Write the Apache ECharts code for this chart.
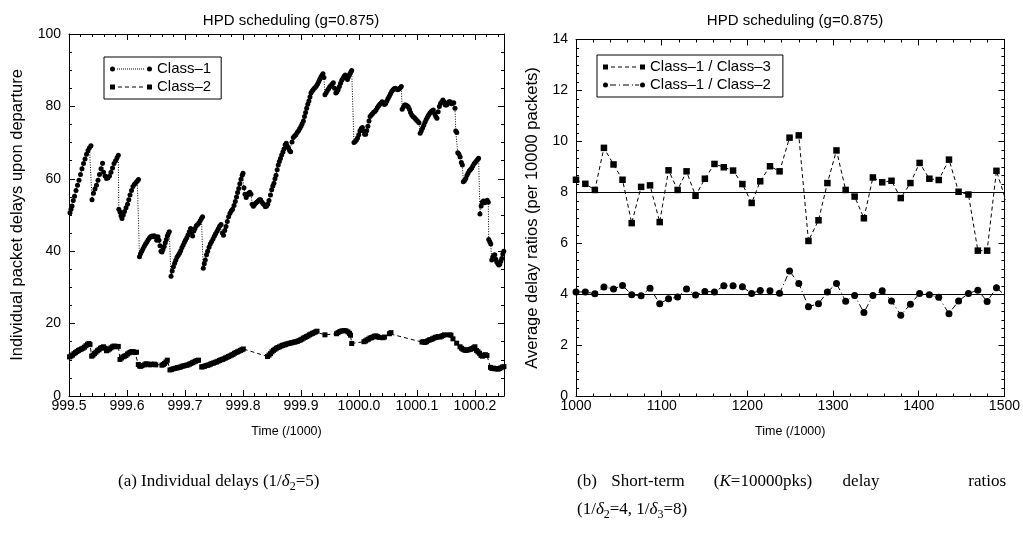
<!DOCTYPE html>
<html><head><meta charset="utf-8">
<script src="https://cdn.jsdelivr.net/npm/echarts@6/dist/echarts.min.js"></script>
<style>html,body{margin:0;padding:0;background:#fff}#c{width:1023px;height:539px}</style>
</head><body><div id="c"></div>
<script>
// ---- Data ----
// (a) Individual packet delays: [time (/1000), delay]
const class1Delays = [
[999.5017,50.6],[999.5034,51.6],[999.5052,52.5],[999.5074,54],[999.5095,55.2],[999.5121,56.8],[999.5147,58.2],[999.5172,59.6],[999.5198,61.2],[999.5224,62.8],[999.525,64.2],[999.5276,65.5],[999.5302,66.8],[999.5328,67.8],[999.5353,68.6],[999.5379,69.1],
[999.5397,54.2],[999.5422,56],[999.5448,57.2],[999.5474,58.2],[999.55,59.6],[999.5526,61.2],[999.5552,62.8],[999.5578,64.3],[999.5595,61.8],[999.5621,60.8],[999.5647,60.1],[999.5672,60.3],[999.5698,60.8],[999.5724,61.8],[999.575,63],[999.5776,64.2],[999.5802,65],[999.5828,65.8],[999.585,66.5],
[999.5859,51.6],[999.5879,50.8],[999.5897,49.8],[999.5914,49],[999.5936,50],[999.5957,51],[999.5983,52],[999.6009,53],[999.6031,54.2],[999.6052,55.5],[999.6078,56.8],[999.6103,57.9],[999.6129,58.5],[999.6155,59],[999.6178,59.4],[999.6198,59.8],
[999.6215,38.5],[999.6233,39.3],[999.6255,40],[999.6276,40.7],[999.6298,41.4],[999.6319,42],[999.6341,42.5],[999.6362,43.1],[999.6384,43.6],[999.6405,44],[999.6428,44.2],[999.6448,44],[999.6469,44.3],[999.6491,44],[999.6512,43],[999.6534,44],[999.6552,43],[999.6569,41.5],[999.6586,40],[999.6603,39.8],[999.6621,40.5],[999.6641,41.3],[999.666,42.3],[999.6678,43.2],[999.6695,44.2],[999.6712,44.8],[999.6729,45.4],
[999.6759,33.1],[999.6779,34.5],[999.68,35.7],[999.6821,36.7],[999.6841,37.5],[999.6862,38.3],[999.6884,38.9],[999.6905,39.4],[999.6926,40.1],[999.6948,41],[999.6969,41.7],[999.699,42.5],[999.701,43.1],[999.7031,43.7],[999.7052,44.5],[999.7074,45.4],[999.7096,46.3],[999.7114,45.2],[999.7131,44.2],[999.7152,45.6],[999.7172,46.3],[999.7195,47],[999.7217,47.4],[999.724,47.8],[999.7262,48.4],[999.7283,49],[999.7303,49.5],
[999.7315,35.3],[999.7333,36.5],[999.735,37.6],[999.7371,39],[999.7391,40],[999.7414,41.1],[999.7436,42],[999.746,42.7],[999.7483,43.4],[999.7505,44.1],[999.7527,44.8],[999.7552,45.5],[999.7574,46.2],[999.7596,46.9],[999.7621,47.4],[999.7643,45],[999.7664,44.4],[999.7686,45.7],[999.7707,46.8],[999.7729,48.2],[999.7752,49.5],[999.7776,50.5],[999.7798,51.2],[999.7821,51.6],[999.7845,52.6],[999.7867,53.7],[999.7888,55],[999.7907,56.2],[999.7926,57.3],[999.7945,58.6],[999.7965,59.9],[999.7986,61],[999.8,61.5],
[999.8017,57.5],[999.8034,55.7],[999.8055,54.8],[999.8076,55.5],[999.8096,56],[999.8117,56.3],[999.8138,55.7],[999.8158,53],[999.8179,52.4],[999.82,52.9],[999.822,53.3],[999.8241,53.6],[999.8262,53.9],[999.8283,54.2],[999.8303,54.2],[999.8324,53.6],[999.8345,53.2],[999.8365,52.8],[999.8386,52.3],[999.8407,52.5],[999.8427,53],[999.8448,54],
[999.8474,55.5],[999.8495,57],[999.8515,58],[999.8534,58.8],[999.8551,60],[999.8569,61],[999.8589,62.5],[999.8608,63.8],[999.8627,64.8],[999.8646,65.6],[999.8667,66.6],[999.8688,67.4],[999.8707,68.2],[999.8727,69.4],[999.8746,69.8],[999.8765,69],[999.8784,68.5],[999.8803,67.8],[999.8822,67.5],[999.8845,70.2],[999.8867,71.4],[999.8889,71.8],[999.8912,72.2],[999.8934,72.8],[999.8957,73.3],[999.8979,73.9],[999.9,74.5],[999.902,75.2],[999.9041,76],[999.906,77.2],[999.9079,78.3],[999.9098,79.5],[999.9117,80.6],[999.9136,81.5],[999.9155,82.6],[999.9172,83.7],[999.9191,84.2],[999.921,84.6],[999.9229,85],[999.9248,85.3],[999.9267,85.7],[999.9286,86.2],[999.9305,86.8],[999.9324,87.5],[999.9343,88.1],[999.9362,88.6],[999.9379,89],[999.9396,88],
[999.9413,83.2],[999.9434,83.8],[999.9455,84.4],[999.9476,84.9],[999.9496,85.4],[999.9517,85.8],[999.9538,86.2],[999.9558,86.5],[999.9579,85],[999.96,83.7],[999.962,84],[999.9641,84.6],[999.9662,85.5],[999.9682,86.4],[999.9703,87.2],[999.9724,87.8],[999.9744,88.3],[999.9763,88.7],[999.9782,88],[999.9801,87.4],[999.982,88.2],[999.9839,88.9],[999.9857,89.4],[999.9874,89.9],
[999.9913,70],[999.9934,70.3],[999.9955,70.7],[999.9975,71.3],[999.9996,72.2],[1000.0017,73.3],[1000.0038,73.9],[1000.0058,74.2],[1000.0077,73.2],[1000.0096,72.3],[1000.0115,72.3],[1000.0134,73.3],[1000.0153,74.5],[1000.0172,76],[1000.0191,77.2],[1000.0212,77.6],[1000.0232,78],[1000.0253,78.4],[1000.0274,78.6],[1000.0294,79],[1000.0315,79.6],[1000.0336,80.1],[1000.0356,80.5],[1000.0377,80.9],[1000.0398,81.3],[1000.0418,81],[1000.0439,80.5],[1000.046,80.8],[1000.0481,81.5],[1000.0501,82.2],[1000.0522,82.8],[1000.0543,83.5],[1000.0563,84.1],[1000.0584,84.5],[1000.0605,84.9],[1000.0625,85],[1000.0646,84.8],[1000.0667,84.6],[1000.0687,84.8],[1000.0708,85.1],[1000.0729,85.5],
[1000.0744,79.2],[1000.0765,79.8],[1000.0786,80.4],[1000.0806,80.4],[1000.0827,80.2],[1000.0848,79.9],[1000.0869,79.2],[1000.0889,78.3],[1000.091,77.6],[1000.0931,77.2],[1000.0951,76.9],[1000.0972,76.6],[1000.0993,76.2],[1000.1013,75.9],[1000.1034,75.5],[1000.1055,72.6],[1000.1075,73.3],[1000.1096,74],[1000.1117,74.8],[1000.1137,75.6],[1000.1158,76.4],[1000.1179,77],[1000.12,77.6],[1000.122,78.1],[1000.1241,78.5],[1000.1262,78.8],[1000.1282,79],[1000.1303,78],[1000.1324,77.2],[1000.1344,76.7],[1000.1365,78.5],[1000.1386,80],[1000.1406,80.8],[1000.1427,81.3],[1000.1448,81.8],[1000.1468,81.2],[1000.1489,80.4],[1000.151,80.4],[1000.1531,80.9],[1000.1551,81.3],[1000.1572,81.3],[1000.1593,80.7],[1000.1613,80.8],[1000.1634,81],[1000.1655,79.5],
[1000.1668,73.2],[1000.1686,72.8],[1000.1703,67.2],[1000.1724,66.8],[1000.1744,66],[1000.1765,64.5],[1000.1782,63.8],[1000.1799,59.2],[1000.182,59.5],[1000.1841,60.1],[1000.1862,61],[1000.1882,61.6],[1000.1903,62.2],[1000.1924,62.6],[1000.1944,63],[1000.1965,63.6],[1000.1986,64.2],[1000.2006,64.6],[1000.2027,65],[1000.2048,65.4],[1000.2062,65.7],
[1000.2086,50.3],[1000.2106,52.5],[1000.2127,53.6],[1000.2148,53.9],[1000.2168,53.4],[1000.2189,53.8],[1000.221,54.1],[1000.2229,53.5],
[1000.2237,43.2],[1000.2255,42.6],[1000.2272,42],[1000.2289,37.6],[1000.2306,38.4],[1000.2324,38.8],[1000.2341,39],[1000.2358,37.8],[1000.2375,37],[1000.2393,36.6],[1000.241,36.2],[1000.2427,36.4],[1000.2444,37.2],[1000.2462,38],[1000.2479,39.2],[1000.2496,40],[1000.2513,40.5]
];
const class2Delays = [
[999.5009,10.8],[999.5034,11],[999.506,11.3],[999.5086,11.7],[999.5112,12],[999.5138,12.3],[999.5164,12.6],[999.519,12.8],[999.5216,13],[999.5241,13.2],[999.5267,13.5],[999.5293,13.9],[999.5319,14.3],[999.5345,14.5],[999.5362,14.2],
[999.5391,11],[999.5414,11.3],[999.544,11.7],[999.5465,12.1],[999.5491,12.5],[999.5517,12.8],[999.5543,13.2],[999.5569,13.4],[999.5595,13.6],[999.5621,13.2],[999.5647,12.5],[999.5672,12.7],[999.5698,13],[999.5724,13.3],[999.575,13.6],[999.5776,13.8],[999.5802,13.7],[999.5828,13.6],[999.585,13.7],
[999.5879,10.1],[999.5905,10.5],[999.5931,10.8],[999.5957,11],[999.5983,11.2],[999.6009,11.6],[999.6034,11.9],[999.606,12.1],[999.6086,12.3],[999.6112,12.2],[999.6138,12],[999.6164,12.1],
[999.6195,8.7],[999.6215,8.3],[999.6236,8.2],[999.6259,8.4],[999.6302,8.6],[999.6327,8.9],[999.6348,8.8],[999.6396,8.6],[999.6417,8.8],[999.6474,8.8],[999.6496,8.6],[999.6603,8.5],[999.6626,8.7],[999.6646,9],[999.6672,9.4],[999.6695,9.9],
[999.6741,7.2],[999.6767,7.3],[999.6793,7.5],[999.6819,7.6],[999.6845,7.7],[999.6871,7.8],[999.6896,7.9],[999.6922,8],[999.6948,8.2],[999.6974,8.3],[999.7,8.4],[999.7026,8.5],[999.7052,8.6],[999.7077,8.8],[999.7103,9],[999.7129,9.2],[999.7155,9.4],[999.7181,9.6],[999.7207,9.8],[999.7233,9.9],
[999.7288,8],[999.731,8.1],[999.7336,8.2],[999.7362,8.4],[999.7388,8.5],[999.7414,8.6],[999.7439,8.8],[999.7465,9],[999.7491,9.1],[999.7517,9.3],[999.7543,9.4],[999.7569,9.6],[999.7595,9.8],[999.762,10],[999.7646,10.1],[999.7672,10.3],[999.7698,10.5],[999.7724,10.7],[999.775,10.9],[999.7776,11.1],[999.7802,11.3],[999.7827,11.5],[999.7853,11.8],[999.7879,12],[999.7905,12.2],[999.7931,12.4],[999.7957,12.6],[999.7983,12.8],[999.8005,13],
[999.8422,10.9],[999.8448,11.3],[999.8474,11.7],[999.85,12.2],[999.8525,12.6],[999.8551,12.9],[999.8577,13.2],[999.8603,13.4],[999.8629,13.6],[999.8655,13.8],[999.8681,14],[999.8707,14.1],[999.8732,14.2],[999.8758,14.4],[999.8784,14.5],[999.881,14.6],[999.8836,14.7],[999.8862,14.8],[999.8888,14.9],[999.8913,15],[999.8939,15.1],[999.8965,15.3],[999.8991,15.5],[999.9017,15.7],[999.9043,16],[999.9069,16.2],[999.9095,16.4],[999.912,16.6],[999.9146,16.9],[999.9172,17.1],[999.9198,17.3],[999.9224,17.5],[999.925,17.7],[999.9276,17.9],
[999.9413,16.9],[999.9612,17.2],[999.9638,17.5],[999.9672,17.8],[999.9707,18],[999.9741,18.1],[999.9775,18],[999.981,17.7],[999.9836,17.3],[999.9853,16.8],[999.9874,14.5],
[1000.0086,15],[1000.0112,15.2],[1000.0138,15.5],[1000.0163,15.7],[1000.0189,16],[1000.0215,16.1],[1000.0241,16.3],[1000.0267,16.5],[1000.0293,16.6],[1000.0319,16.4],[1000.0344,16.2],[1000.0413,16.1],[1000.0439,16.3],[1000.0525,17.2],[1000.0551,17.5],
[1000.1086,14.9],[1000.1112,15],[1000.1137,14.8],[1000.1163,15],[1000.1189,15.3],[1000.1215,15.5],[1000.1241,15.6],[1000.1267,15.8],[1000.1293,16],[1000.1319,16.2],[1000.1345,16.3],[1000.1371,16.4],[1000.1396,16.3],[1000.1422,16.5],[1000.1448,16.7],[1000.1474,16.9],
[1000.156,16.9],[1000.1586,16.8],[1000.162,15.8],[1000.1684,14.6],[1000.1741,13.6],[1000.1767,13.2],[1000.1793,12.9],[1000.1818,12.7],[1000.1844,12.6],[1000.187,12.7],[1000.1896,12.8],[1000.1922,12.9],[1000.1948,13.1],[1000.1974,13.3],[1000.1999,13.6],[1000.2025,12.6],[1000.2051,12.2],[1000.2077,11.8],[1000.2103,11.2],[1000.2129,11],[1000.2155,11.3],[1000.218,11.4],[1000.2206,11.2],
[1000.2267,7.9],[1000.2293,7.6],[1000.2318,7.7],[1000.2344,7.5],[1000.237,7.6],[1000.2396,7.4],[1000.2422,7.6],[1000.2448,7.8],[1000.2474,8],[1000.2499,8.1],[1000.2517,8.2]
];
// (b) Short-term delay ratios per 10000-packet window
const ratioTimes = [1000,1010.9,1022,1032.6,1043.8,1054.3,1065,1076,1086.4,1097.7,1108,1118.6,1129,1139.5,1150.4,1161.6,1172.5,1183.3,1194.2,1205,1215,1226.4,1237.6,1249.2,1260,1271.3,1283,1293.4,1304,1314.7,1325.2,1336,1346.5,1357.4,1368.2,1379,1390.3,1401,1412.4,1423.3,1435.3,1446.5,1458,1469,1479.8,1490.7,1501.6];
const ratio13 = [8.5,8.34,8.1,9.75,9.1,8.5,6.8,8.22,8.28,6.84,8.87,8.1,8.83,7.87,8.54,9.12,8.99,8.86,8.33,7.59,8.44,9.03,8.83,10.15,10.24,6.1,6.91,8.37,9.65,8.1,7.84,6.99,8.59,8.4,8.46,7.78,8.37,9.16,8.54,8.49,9.29,8.03,7.92,5.72,5.72,8.85,7.7];
const ratio12 = [4.1,4.1,4.03,4.29,4.22,4.35,3.99,3.95,4.25,3.64,3.83,3.9,4.22,3.98,4.12,4.1,4.34,4.34,4.3,4.04,4.16,4.15,4.05,4.92,4.43,3.52,3.64,4.1,4.43,3.74,3.96,3.29,3.96,4.15,3.75,3.19,3.62,4.04,3.99,3.89,3.25,3.75,4.04,4.17,3.73,4.26,3.95];
const targetRatios = [8, 4];
const chartTitle = 'HPD scheduling (g=0.875)';
const seriesNames = ['Class\u20131', 'Class\u20132', 'Class\u20131 / Class\u20133', 'Class\u20131 / Class\u20132'];

// ---- Styling ----
const SANS = "'Liberation Sans', Arial, Helvetica, sans-serif";
const SERIF = "'Liberation Serif', 'Times New Roman', serif";
const BLACK = '#000';

const iconDots = 'path://M0,2.5A2.5,2.5,0,1,0,5,2.5A2.5,2.5,0,1,0,0,2.5Z M37,2.5A2.5,2.5,0,1,0,42,2.5A2.5,2.5,0,1,0,37,2.5Z' +
  ' M7,2h1v1h-1Z M9,2h1v1h-1Z M11,2h1v1h-1Z M13,2h1v1h-1Z M15,2h1v1h-1Z M17,2h1v1h-1Z M19,2h1v1h-1Z M21,2h1v1h-1Z M23,2h1v1h-1Z M25,2h1v1h-1Z M27,2h1v1h-1Z M29,2h1v1h-1Z M31,2h1v1h-1Z M33,2h1v1h-1Z';
const iconDash = 'path://M0,0h5v5h-5Z M37,0h5v5h-5Z M8,2h4v1h-4Z M15,2h4v1h-4Z M22,2h4v1h-4Z M29,2h4v1h-4Z';
const iconDashDot = 'path://M0,2.5A2.5,2.5,0,1,0,5,2.5A2.5,2.5,0,1,0,0,2.5Z M37,2.5A2.5,2.5,0,1,0,42,2.5A2.5,2.5,0,1,0,37,2.5Z' +
  ' M7,2h6v1h-6Z M16,2h1v1h-1Z M20,2h6v1h-6Z M29,2h1v1h-1Z M32,2h4v1h-4Z';

function axisCommon(extra) {
  return Object.assign({
    type: 'value',
    axisLine: { show: true, onZero: false, lineStyle: { color: BLACK, width: 1 } },
    axisTick: { show: true, inside: true, length: 6, lineStyle: { color: BLACK, width: 1 } },
    minorTick: { show: true, length: 3, lineStyle: { color: BLACK, width: 1 } },
    splitLine: { show: false },
    minorSplitLine: { show: false },
    axisLabel: { color: BLACK, fontSize: 14, fontFamily: SANS },
    nameTextStyle: { color: BLACK, fontFamily: SANS }
  }, extra);
}

const xAxes = [
  axisCommon({ gridIndex: 0, position: 'bottom', min: 999.5, max: 1000.25, interval: 0.1,
    minorTick: { show: true, splitNumber: 5, length: 3, lineStyle: { color: BLACK } },
    axisLabel: { color: BLACK, fontSize: 14, fontFamily: SANS, margin: 3, showMaxLabel: false, formatter: v => v.toFixed(1) },
    name: 'Time (/1000)', nameLocation: 'middle', nameGap: 29, nameTextStyle: { fontSize: 12.5, fontFamily: SANS, color: BLACK } }),
  axisCommon({ gridIndex: 0, position: 'top', min: 999.5, max: 1000.25, interval: 0.1,
    minorTick: { show: true, splitNumber: 5, length: 3, lineStyle: { color: BLACK } },
    axisLabel: { show: false } }),
  axisCommon({ gridIndex: 1, position: 'bottom', min: 1000, max: 1500, interval: 100,
    minorTick: { show: true, splitNumber: 5, length: 3, lineStyle: { color: BLACK } },
    axisLabel: { color: BLACK, fontSize: 14, fontFamily: SANS, margin: 3, formatter: v => String(Math.round(v)) },
    name: 'Time (/1000)', nameLocation: 'middle', nameGap: 29, nameTextStyle: { fontSize: 12.5, fontFamily: SANS, color: BLACK } }),
  axisCommon({ gridIndex: 1, position: 'top', min: 1000, max: 1500, interval: 100,
    minorTick: { show: true, splitNumber: 5, length: 3, lineStyle: { color: BLACK } },
    axisLabel: { show: false } })
];
const yAxes = [
  axisCommon({ gridIndex: 0, position: 'left', min: 0, max: 100, interval: 20,
    minorTick: { show: true, splitNumber: 4, length: 3, lineStyle: { color: BLACK } },
    axisLabel: { color: BLACK, fontSize: 14, fontFamily: SANS, margin: 8 },
    name: 'Individual packet delays upon departure', nameLocation: 'middle', nameGap: 43,
    nameTextStyle: { fontSize: 16.5, fontFamily: SANS, color: BLACK } }),
  axisCommon({ gridIndex: 0, position: 'right', min: 0, max: 100, interval: 20,
    minorTick: { show: true, splitNumber: 4, length: 3, lineStyle: { color: BLACK } },
    axisLabel: { show: false } }),
  axisCommon({ gridIndex: 1, position: 'left', min: 0, max: 14, interval: 2,
    minorTick: { show: true, splitNumber: 6, length: 3, lineStyle: { color: BLACK } },
    axisLabel: { color: BLACK, fontSize: 14, fontFamily: SANS, margin: 8 },
    name: 'Average delay ratios (per 10000 packets)', nameLocation: 'middle', nameGap: 35,
    nameTextStyle: { fontSize: 16.5, fontFamily: SANS, color: BLACK } }),
  axisCommon({ gridIndex: 1, position: 'right', min: 0, max: 14, interval: 2,
    minorTick: { show: true, splitNumber: 6, length: 3, lineStyle: { color: BLACK } },
    axisLabel: { show: false } })
];

function lineSeries(name, xi, yi, data, symbol, size, dash, extra) {
  return Object.assign({
    name, type: 'line', xAxisIndex: xi, yAxisIndex: yi, data,
    symbol, symbolSize: size, showSymbol: true, showAllSymbol: true,
    itemStyle: { color: BLACK }, lineStyle: { color: BLACK, width: 1, type: dash },
    emphasis: { disabled: true }, animation: false, silent: true
  }, extra || {});
}
function refLine(value) {
  return { silent: true, symbol: 'none', animation: false,
    label: { show: false }, lineStyle: { color: BLACK, width: 1, type: 'solid' },
    emphasis: { disabled: true }, data: [{ yAxis: value }] };
}

const legendCommon = {
  orient: 'vertical', itemWidth: 42, itemHeight: 5, itemGap: 2,
  borderColor: BLACK, borderWidth: 1, selectedMode: false,
  textStyle: { color: BLACK, fontSize: 15, fontFamily: SANS, lineHeight: 16 }
};

const capBase = { fill: BLACK, fontFamily: SERIF, fontSize: 17, lineHeight: 22, verticalAlign: 'middle',
  rich: {
    i: { fontFamily: SERIF, fontSize: 17, fontStyle: 'italic', lineHeight: 22, fill: BLACK },
    s: { fontFamily: SERIF, fontSize: 12, lineHeight: 13, verticalAlign: 'bottom', fill: BLACK }
  } };
function caption(text, x, y, align) {
  return { type: 'text', x, y, silent: true, style: Object.assign({}, capBase, { text, align: align || 'left' }) };
}

const chart = echarts.init(document.getElementById('c'), null, { renderer: 'canvas' });
chart.setOption({
  animation: false,
  backgroundColor: '#fff',
  title: [
    { text: chartTitle, left: 286, top: 8, textAlign: 'center', textStyle: { fontSize: 15, fontWeight: 'normal', fontFamily: SANS, color: BLACK } },
    { text: chartTitle, left: 790, top: 8, textAlign: 'center', textStyle: { fontSize: 15, fontWeight: 'normal', fontFamily: SANS, color: BLACK } }
  ],
  grid: [
    { left: 69, top: 34, width: 435, height: 362 },
    { left: 576, top: 39.5, width: 429, height: 357 }
  ],
  legend: [
    Object.assign({}, legendCommon, { left: 104, top: 57, padding: [4, 10, 4, 6],
      data: [{ name: seriesNames[0], icon: iconDots }, { name: seriesNames[1], icon: iconDash }] }),
    Object.assign({}, legendCommon, { left: 597, top: 55, padding: [4, 12, 4, 6],
      data: [{ name: seriesNames[2], icon: iconDash }, { name: seriesNames[3], icon: iconDashDot }] })
  ],
  xAxis: xAxes,
  yAxis: yAxes,
  series: [
    lineSeries(seriesNames[0], 0, 0, class1Delays, 'circle', 5, [1, 1.5]),
    lineSeries(seriesNames[1], 0, 0, class2Delays, 'rect', 5, [4, 3]),
    lineSeries(seriesNames[2], 2, 2, ratioTimes.map((t, i) => [t, ratio13[i]]), 'rect', 6.5, [4, 3], { markLine: refLine(targetRatios[0]) }),
    lineSeries(seriesNames[3], 2, 2, ratioTimes.map((t, i) => [t, ratio12[i]]), 'circle', 7, [6, 3, 1, 3], { markLine: refLine(targetRatios[1]) })
  ],
  graphic: [
    caption('(a) Individual delays (1/{i|\u03b4}{s|2}=5)', 118, 482),
    caption('(b)', 577, 482),
    caption('Short-term', 648, 482, 'center'),
    caption('({i|K}=10000pks)', 763, 482, 'center'),
    caption('delay', 861, 482, 'center'),
    caption('ratios', 1006, 482, 'right'),
    caption('(1/{i|\u03b4}{s|2}=4, 1/{i|\u03b4}{s|3}=8)', 577, 510)
  ]
});
</script>
</body></html>
